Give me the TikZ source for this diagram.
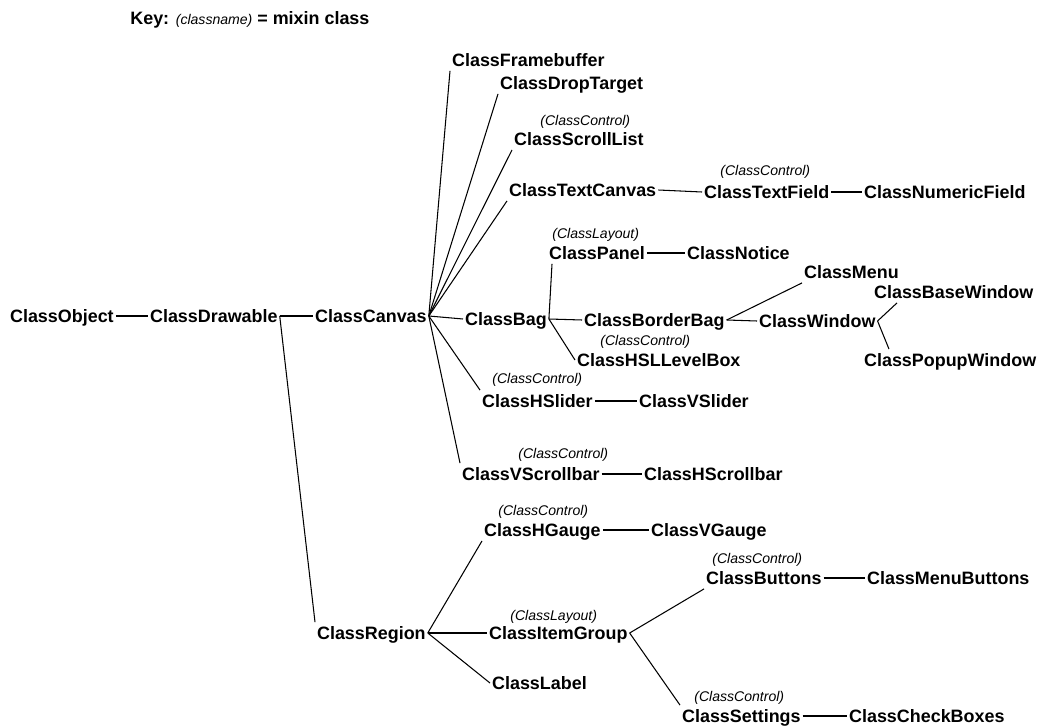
\documentclass[tikz,border=0pt]{standalone}
\usepackage{fontspec}
\setmainfont{Liberation Sans}
\usepackage{tikz}

\begin{document}
\begin{tikzpicture}[x=0.02cm, y=-0.02cm,
  cls/.style={anchor=west, inner sep=1pt, font=\fontsize{10.2}{12}\selectfont\bfseries,
              text height=1.6ex, text depth=0.3ex},
  mixin/.style={anchor=west, inner sep=0pt, font=\fontsize{8}{9.6}\selectfont\itshape},
  link/.style={line width=0.6pt}]
\useasboundingbox (0,0) rectangle (1037,726);

\node[anchor=west, inner sep=0pt, font=\fontsize{10.2}{12}\selectfont\bfseries] (key) at (130,20)
  {Key: {\fontsize{8}{9.6}\selectfont\mdseries\itshape (classname)} = mixin class};

\node[cls] (obj)      at (  8,316) {ClassObject};
\node[cls] (drw)      at (148,316) {ClassDrawable};
\node[cls] (cnv)      at (313,316) {ClassCanvas};
\node[cls] (region)   at (315,633) {ClassRegion};

\node[cls] (fb)       at (450, 60) {ClassFramebuffer};
\node[cls] (drop)     at (498, 83) {ClassDropTarget};
\node[mixin] (mscroll) at (540,122) {(ClassControl)};
\node[cls] (scroll)   at (512,139) {ClassScrollList};
\node[cls] (tcnv)     at (507,190) {ClassTextCanvas};
\node[mixin] (mtfield) at (720,172) {(ClassControl)};
\node[cls] (tfield)   at (702,192) {ClassTextField};
\node[cls] (nfield)   at (862,192) {ClassNumericField};

\node[mixin] (mpanel) at (552,235) {(ClassLayout)};
\node[cls] (panel)    at (547,253) {ClassPanel};
\node[cls] (notice)   at (685,253) {ClassNotice};
\node[cls] (menu)     at (802,272) {ClassMenu};
\node[cls] (bwin)     at (872,292) {ClassBaseWindow};
\node[cls] (bag)      at (463,319) {ClassBag};
\node[cls] (bbag)     at (582,320) {ClassBorderBag};
\node[cls] (win)      at (757,321) {ClassWindow};
\node[mixin] (mhsl)   at (600,342) {(ClassControl)};
\node[cls] (hsl)      at (575,360) {ClassHSLLevelBox};
\node[cls] (pwin)     at (862,360) {ClassPopupWindow};

\node[mixin] (mhslider) at (492,380) {(ClassControl)};
\node[cls] (hslider)  at (480,401) {ClassHSlider};
\node[cls] (vslider)  at (637,401) {ClassVSlider};
\node[mixin] (mvsb)   at (518,455) {(ClassControl)};
\node[cls] (vsb)      at (460,474) {ClassVScrollbar};
\node[cls] (hsb)      at (642,474) {ClassHScrollbar};

\node[mixin] (mhgauge) at (498,512) {(ClassControl)};
\node[cls] (hgauge)   at (482,530) {ClassHGauge};
\node[cls] (vgauge)   at (649,530) {ClassVGauge};
\node[mixin] (mbtn)   at (712,560) {(ClassControl)};
\node[cls] (btn)      at (704,578) {ClassButtons};
\node[cls] (mbtns)    at (865,578) {ClassMenuButtons};
\node[mixin] (migroup) at (510,617) {(ClassLayout)};
\node[cls] (igroup)   at (487,633) {ClassItemGroup};
\node[cls] (label)    at (490,683) {ClassLabel};
\node[mixin] (mset)   at (694,698) {(ClassControl)};
\node[cls] (settings) at (680,716) {ClassSettings};
\node[cls] (cbox)     at (847,716) {ClassCheckBoxes};

\draw[link] (obj.east) -- (drw.west);
\draw[link] (drw.east) -- (cnv.west);
\draw[link] (drw.east) -- (region.north west);

\draw[link] (cnv.east) -- (fb.south west);
\draw[link] (cnv.east) -- (drop.south west);
\draw[link] (cnv.east) -- (scroll.south west);
\draw[link] (cnv.east) -- (tcnv.south west);
\draw[link] (cnv.east) -- (bag.west);
\draw[link] (cnv.east) -- (hslider.north west);
\draw[link] (cnv.east) -- (vsb.north west);

\draw[link] (tcnv.east)   -- (tfield.west);
\draw[link] (tfield.east) -- (nfield.west);

\draw[link] (bag.east)   -- ([xshift=0.1cm]panel.south west);
\draw[link] (bag.east)   -- (bbag.west);
\draw[link] (bag.east)   -- (hsl.west);
\draw[link] (panel.east) -- (notice.west);
\draw[link] (bbag.east)  -- (menu.south west);
\draw[link] (bbag.east)  -- (win.west);
\draw[link] (win.east)   -- ([xshift=0.5cm]bwin.south west);
\draw[link] (win.east)   -- ([xshift=0.54cm]pwin.north west);

\draw[link] (hslider.east) -- (vslider.west);
\draw[link] (vsb.east)     -- (hsb.west);

\draw[link] (region.east) -- (hgauge.south west);
\draw[link] (region.east) -- (igroup.west);
\draw[link] (region.east) -- (label.west);
\draw[link] (hgauge.east) -- (vgauge.west);
\draw[link] (igroup.east) -- (btn.south west);
\draw[link] (igroup.east) -- (settings.north west);
\draw[link] (btn.east)      -- (mbtns.west);
\draw[link] (settings.east) -- (cbox.west);

\end{tikzpicture}
\end{document}
